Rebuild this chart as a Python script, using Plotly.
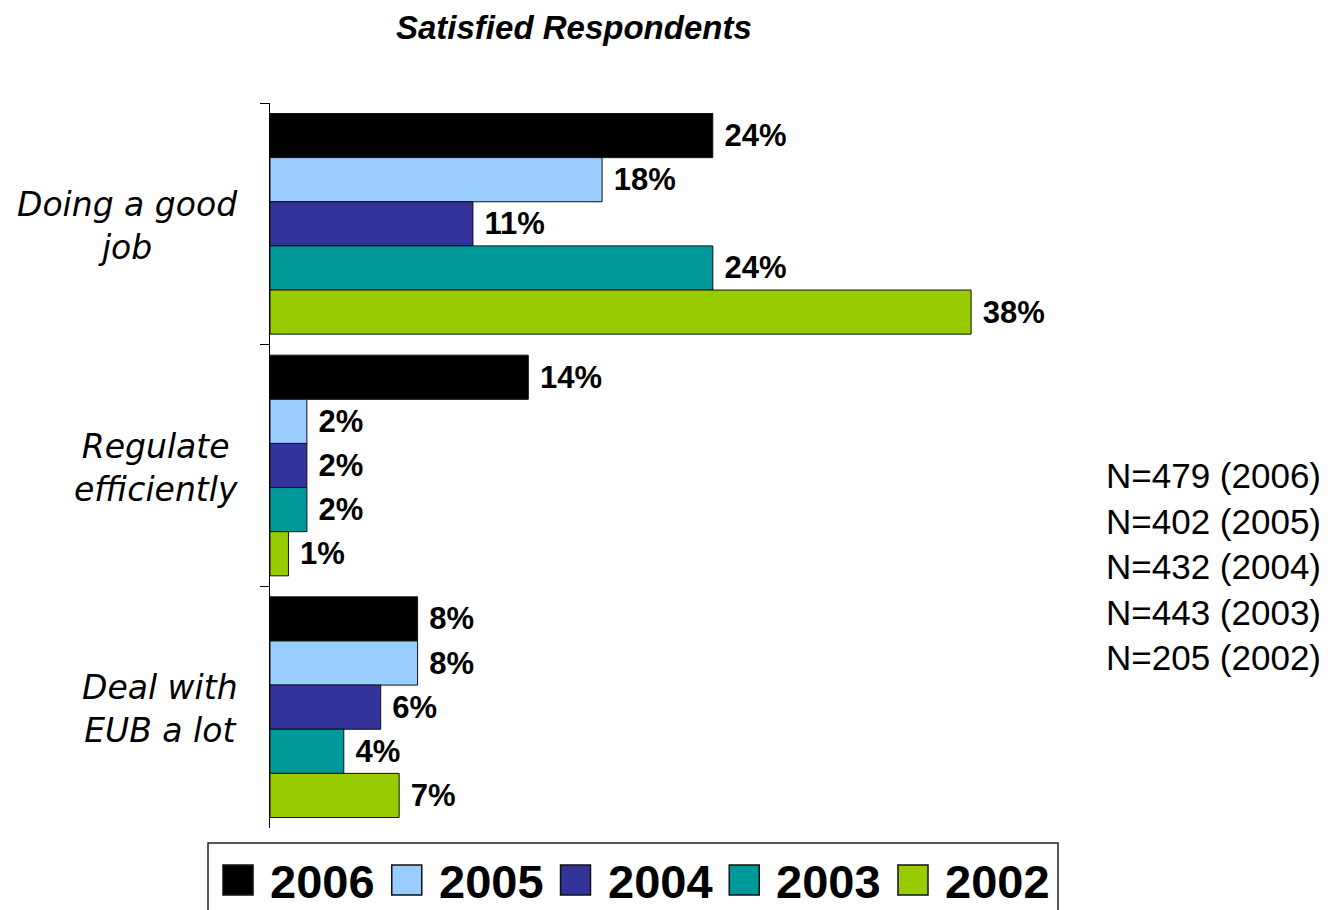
import plotly.graph_objects as go

# ---- data ----
categories = ["Doing a good<br>job", "Regulate<br>efficiently", "Deal with<br>EUB a lot"]
years = ["2006", "2005", "2004", "2003", "2002"]
values_2006 = [24, 14, 8]
values_2005 = [18, 2, 8]
values_2004 = [11, 2, 6]
values_2003 = [24, 2, 4]
values_2002 = [38, 1, 7]
series_values = [values_2006, values_2005, values_2004, values_2003, values_2002]
colors = ["#000000", "#99CCFF", "#333399", "#009999", "#99CC00"]
sample_notes = ["N=479 (2006)", "N=402 (2005)", "N=432 (2004)", "N=443 (2003)", "N=205 (2002)"]
title_text = "Satisfied Respondents"

# ---- geometry (page renders with an 8px body offset) ----
W, H = 1336, 910
OFF = 8
PW, PH = 738, 725
ML, MT = 270 - OFF, 103 - OFF
MR = W - ML - PW
MB = H - MT - PH


def px_x(px):
    return (px - OFF - ML) / PW


def px_y(py):
    return (H - MB - (py - OFF)) / PH


fig = go.Figure()
for yr, vals, col in zip(years, series_values, colors):
    fig.add_trace(go.Bar(
        y=categories, x=vals, name=yr, orientation="h",
        marker=dict(color=col, line=dict(color="#111111", width=1)),
        texttemplate="\u00a0%{x}%", textposition="outside",
        textfont=dict(family="Liberation Sans, Arial, sans-serif", size=31, color="#000000", weight="bold"),
        constraintext="none", cliponaxis=False, showlegend=False,
        hoverinfo="x+name",
    ))

annotations = []
# title
annotations.append(dict(
    x=px_x(573.5), xref="paper", y=px_y(OFF), yref="paper", xanchor="center", yanchor="top",
    text=f"<b><i>{title_text}</i></b>", showarrow=False, borderpad=0,
    font=dict(family="Liberation Sans, Arial, sans-serif", size=33, color="#000000"),
))
# category labels (centered multi-line)
for cat in categories:
    annotations.append(dict(
        x=0, xref="paper", y=cat, yref="y", xanchor="right", yanchor="middle",
        xshift=-30, yshift=-2, text=f"<i>{cat}</i>", align="center", showarrow=False,
        font=dict(family="DejaVu Sans, Verdana, sans-serif", size=33, color="#000000"),
    ))

# sample sizes
annotations.append(dict(
    x=px_x(1323), xref="paper", y=px_y(566), yref="paper", xanchor="right", yanchor="middle",
    text="<br>".join(sample_notes), align="right", showarrow=False,
    font=dict(family="Liberation Sans, Arial, sans-serif", size=35, color="#000000"),
))

# manual legend (large swatches)
shapes = [dict(type="rect", xref="paper", yref="paper",
               x0=px_x(208), x1=px_x(1058), y0=px_y(843), y1=px_y(935),
               line=dict(color="#222222", width=1.5), fillcolor="rgba(0,0,0,0)", layer="above")]
pitch = 168.75
for i, (yr, col) in enumerate(zip(years, colors)):
    sx = 223 + i * pitch
    shapes.append(dict(type="rect", xref="paper", yref="paper",
                       x0=px_x(sx), x1=px_x(sx + 30), y0=px_y(865), y1=px_y(895),
                       line=dict(color="#111111", width=1.5), fillcolor=col, layer="above"))
    annotations.append(dict(
        x=px_x(sx + 45), xref="paper", y=px_y(881), yref="paper", xanchor="left", yanchor="middle",
        text=f"<b>{yr}</b>", showarrow=False,
        font=dict(family="Liberation Sans, Arial, sans-serif", size=47, color="#000000"),
    ))

fig.update_layout(
    width=W, height=H,
    margin=dict(l=ML, r=MR, t=MT, b=MB, pad=0),
    paper_bgcolor="#FFFFFF", plot_bgcolor="#FFFFFF",
    barmode="group", bargap=0.087, bargroupgap=0,
    showlegend=False,
    xaxis=dict(range=[0, 40], visible=False, showgrid=False, zeroline=False),
    yaxis=dict(type="category", autorange="reversed", showline=True, linecolor="#000000", linewidth=1,
               ticks="outside", tickson="boundaries", ticklen=9, tickcolor="#000000", tickwidth=1,
               showticklabels=False, showgrid=False, zeroline=False),
    annotations=annotations,
    shapes=shapes,
)

fig.write_html("out.html")
